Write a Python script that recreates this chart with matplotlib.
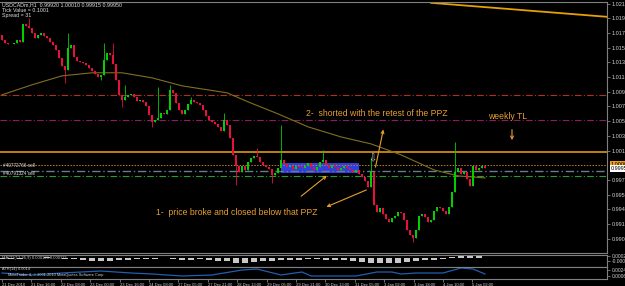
import numpy as np
import matplotlib
matplotlib.use("Agg")
import matplotlib.pyplot as plt
from matplotlib.patches import Rectangle

# ---------------- data ----------------
first_open = 1.01753
closes = [
    1.01686, 1.01646, 1.01632, 1.01632, 1.01646, 1.01686, 1.01659, 1.01902, 1.01875, 1.01848,
    1.01780, 1.01713, 1.01753, 1.01780, 1.01740, 1.01713, 1.01659, 1.01619, 1.01551, 1.01443,
    1.01335, 1.01281, 1.01578, 1.01619, 1.01457, 1.01403, 1.01389, 1.01376, 1.01349, 1.01308,
    1.01268, 1.01227, 1.01187, 1.01214, 1.01416, 1.01511, 1.01484, 1.01362, 1.01146, 1.00944,
    1.00876, 1.00917, 1.00944, 1.00957, 1.00917, 1.00863, 1.00876, 1.00849, 1.00795, 1.00674,
    1.00579, 1.00606, 1.00633, 1.00701, 1.00687, 1.00741, 1.01011, 1.00971, 1.00836, 1.00741,
    1.00687, 1.00741, 1.00822, 1.00876, 1.00849, 1.00836, 1.00809, 1.00741, 1.00660, 1.00606,
    1.00579, 1.00552, 1.00512, 1.00458, 1.00606, 1.00539, 1.00363, 1.00134, 0.99985, 0.99904,
    0.99985, 0.99931, 1.00039, 1.00093, 1.00120, 1.00107, 1.00039, 0.99998, 0.99972, 0.99945,
    0.99864, 0.99891, 0.99958, 1.00066, 1.00012, 0.99972, 0.99985, 0.99945, 0.99985, 0.99972,
    0.99958, 0.99985, 1.00026, 0.99972, 0.99931, 0.99972, 1.00039, 1.00066, 0.99998, 0.99958,
    0.99998, 0.99972, 0.99931, 0.99958, 0.99985, 0.99958, 0.99931, 0.99904, 0.99931, 0.99877,
    0.99837, 0.99783, 0.99702, 0.99904, 0.99459, 0.99364, 0.99418, 0.99337, 0.99270, 0.99229,
    0.99283, 0.99310, 0.99364, 0.99351, 0.99256, 0.99121, 0.99054, 0.99013, 0.99121, 0.99310,
    0.99337, 0.99297, 0.99229, 0.99256, 0.99378, 0.99432, 0.99418, 0.99378, 0.99337, 0.99432,
    0.99634, 0.99904, 0.99958, 0.99877, 0.99904, 0.99810, 0.99715, 0.99985, 0.99931, 0.99958,
    0.99985, 0.99958,
]
wick_high_idx = [9, 22, 34, 37, 41, 52, 56, 63, 74, 85, 93, 107, 123, 151]
wick_high_val = [1.01983, 1.01780, 1.01646, 1.01646, 1.01079, 1.01051, 1.01079, 1.00917,
                 1.00701, 1.00228, 1.00539, 1.00201, 1.00107, 1.00309]
wick_low_idx = [21, 33, 40, 50, 78, 90, 137]
wick_low_val = [1.01106, 1.01146, 1.00782, 1.00512, 0.99729, 0.99756, 0.98959]

ma_idx = [0, 10, 20, 30, 40, 50, 60, 75, 82, 92, 102, 113, 123, 133, 144, 152, 161]
ma_val = [1.00944, 1.01079, 1.01200, 1.01241, 1.01241, 1.01173, 1.01065, 1.00971, 1.00849,
          1.00687, 1.00512, 1.00376, 1.00282, 1.00134, 0.99931, 0.99850, 0.99823]

level_red = 1.00944
level_purple = 1.00606
level_weekly_tl = 1.00174
level_order = 1.00000
level_bid = 0.99918
level_green = 0.99850
ppz_low, ppz_high = 0.99891, 1.00026
ppz_start, ppz_end = 93, 119
tl_idx = [143, 202]
tl_val = [1.02185, 1.01995]

osma = [-1, -1, -0.5, 0.5, 0.5, 1, 0.5, -0.5, -1, -2, -2.5, -3, -2.5, -2, -1.5, -1, -1, -0.5,
        0.5, -1, -1.5, -1.5, -1, -2, -2.5, -3, -4.5, -5, -4, -3, -2.5, -2, -2, -1.5, -1, -1,
        -1.5, -1.5, -2, -2.5, -3.5, -4.5, -5, -5, -4.5, -4, -3, -2, -1.5, -0.5, 1.5, 2.5, 2.5, 2]  # x 1e-4
atr_idx = [0, 10, 20, 33, 43, 50, 60, 70, 80, 85, 93, 100, 103, 118, 125, 130, 133, 138, 147, 153, 157, 161]
atr_val = [0.0015, 0.0009, 0.0015, 0.0021, 0.0015, 0.0012, 0.0006, 0.0009, 0.0024, 0.0027, 0.0009,
           0.0018, 0.0006, 0.0006, 0.0018, 0.0018, 0.0012, 0.0015, 0.0015, 0.0030, 0.0027, 0.0012]

time_labels = ["21 Dec 2010", "21 Dec 16:00", "22 Dec 08:00", "23 Dec 00:00", "23 Dec 16:00",
               "24 Dec 08:00", "27 Dec 05:00", "27 Dec 21:00", "28 Dec 13:00", "29 Dec 05:00",
               "29 Dec 21:00", "30 Dec 13:00", "31 Dec 05:00", "3 Jan 02:00", "3 Jan 18:00",
               "4 Jan 10:00", "5 Jan 02:00"]
price_labels = [1.02175, 1.01975, 1.01780, 1.01580, 1.01385, 1.01185, 1.00985, 1.00790, 1.00590,
                1.00390, 1.00190, 0.99795, 0.99595, 0.99400, 0.99195, 0.99000]

# ---------------- figure ----------------
BG = "black"
GRID = "#808080"
FONT = "Liberation Sans"
fig = plt.figure(figsize=(6.25, 2.86), dpi=100, facecolor=BG)
W = 607 / 625
ax = fig.add_axes([0, 1 - 253 / 286, W, 251 / 286], facecolor=BG)
ax1 = fig.add_axes([0, 1 - 266.5 / 286, W, 11.5 / 286], facecolor=BG)
ax2 = fig.add_axes([0, 1 - 279 / 286, W, 12 / 286], facecolor=BG)

XL = (-0.67, 201.67)
n = len(closes)
x = np.arange(n)
c = np.array(closes)
o = np.concatenate([[first_open], c[:-1]])
hi = np.maximum(o, c)
lo = np.minimum(o, c)
for i, v in zip(wick_high_idx, wick_high_val):
    hi[i] = max(hi[i], v)
for i, v in zip(wick_low_idx, wick_low_val):
    lo[i] = min(lo[i], v)
up = c >= o
UPC, DNC = "#00d000", "#e8103c"
cols = np.where(up, UPC, DNC)

# PPZ zone
ax.add_patch(Rectangle((ppz_start, ppz_low), ppz_end - ppz_start, ppz_high - ppz_low,
                       facecolor="#2e3ee0", edgecolor="none", zorder=1))

# levels
ax.axhline(level_red, color="#b03020", lw=0.8, ls=(0, (6, 2, 1, 2)), zorder=2)
ax.axhline(level_purple, color="#8c1c64", lw=0.8, ls=(0, (6, 2, 1, 2)), zorder=2)
ax.axhline(level_weekly_tl, color="#d08a14", lw=1.3, zorder=2)
ax.axhline(level_order, color="#c08020", lw=0.7, ls=(0, (1.5, 1.5)), zorder=2)
ax.axhline(level_bid, color="#6a7c8c", lw=1.0, ls=(0, (6, 2, 1, 2)), zorder=2)
ax.axhline(level_green, color="#20a030", lw=0.8, ls=(0, (6, 2, 1, 2)), zorder=2)
ax.plot(tl_idx, tl_val, color="#e8a000", lw=1.3, zorder=2)

# moving average
ax.plot(ma_idx, ma_val, color="#807020", lw=0.8, zorder=2)

# candles
ax.vlines(x, lo, hi, colors=cols, lw=0.6, zorder=3)
body_h = np.maximum(np.abs(c - o), 0.00003)
ax.bar(x, body_h, bottom=np.minimum(o, c), width=0.75, color=cols, zorder=3, linewidth=0)

ax.set_xlim(*XL)
ax.set_ylim(0.98810, 1.02196)
ax.set_xticks([])
ax.yaxis.tick_right()
ax.set_yticks(price_labels)
ax.set_yticklabels([f"{v:.5f}" for v in price_labels])
ax.tick_params(axis="y", colors=GRID, labelcolor="#d0d0d0", length=2, width=0.6, pad=1.5, labelsize=4.0)
for lab in ax.get_yticklabels():
    lab.set_fontfamily(FONT)

for a in (ax, ax1, ax2):
    a.spines["left"].set_visible(False)
    for s in ("top", "right", "bottom"):
        a.spines[s].set_color(GRID)
        a.spines[s].set_linewidth(0.8)

# header texts
hdr = dict(color="#e0e0e0", fontsize=3.8, family=FONT, transform=ax.transAxes, va="center", ha="left")
ax.text(2 / 607, 1 - 3 / 251, "USDCADm,H1  0.99920 1.00010 0.99915 0.99950", **hdr)
ax.text(2 / 607, 1 - 8.5 / 251, "Tick Value = 0.1001", **hdr)
ax.text(2 / 607, 1 - 14 / 251, "Spread = 31", **hdr)
ax.text(0.4, 0.99985, "#40772766 sell", color="#e0e0e0", fontsize=3.3, family=FONT, va="center")
ax.text(0.4, 0.99880, "#40791324 sell", color="#e0e0e0", fontsize=3.3, family=FONT, va="center")

# annotations
ORG = "#e8a030"
ax.text(101.5, 1.00687, "2-  shorted with the retest of the PPZ", color=ORG, fontsize=6.2,
        family=FONT, va="center", ha="left", zorder=5)
ax.text(162, 1.00646, "weekly TL", color=ORG, fontsize=6.2, family=FONT, va="center", ha="left", zorder=5)
ax.text(51.3, 0.99351, "1-  price broke and closed below that PPZ", color=ORG, fontsize=6.2,
        family=FONT, va="center", ha="left", zorder=5)
arr = dict(arrowstyle="->", color=ORG, lw=0.8, mutation_scale=5)
ax.annotate("", xy=(127.3, 1.00512), xytext=(124.3, 0.99931), arrowprops=arr, zorder=5)
ax.annotate("", xy=(109, 0.99877), xytext=(99, 0.99553), arrowprops=arr, zorder=5)
ax.annotate("", xy=(107.3, 0.99418), xytext=(122.3, 0.99675), arrowprops=arr, zorder=5)
ax.annotate("", xy=(170, 1.00296), xytext=(170, 1.00512), arrowprops=arr, zorder=5)
ax.text(123.3, 1.00093, "\u21e9", color="#c8c8c8", fontsize=7, family="DejaVu Sans",
        ha="center", va="center", zorder=5)

# right price boxes
ax.text(1.006, level_order, "1.00000", transform=ax.get_yaxis_transform(), fontsize=4.0, family=FONT,
        color="black", va="center", ha="left", clip_on=False,
        bbox=dict(boxstyle="square,pad=0.15", fc="#f0a020", ec="none"))
ax.text(1.006, 0.99950, "0.99950", transform=ax.get_yaxis_transform(), fontsize=4.0, family=FONT,
        color="black", va="center", ha="left", clip_on=False,
        bbox=dict(boxstyle="square,pad=0.15", fc="white", ec="none"))

# OsMA panel
k = np.arange(len(osma)) * 3
ax1.bar(k, np.array(osma) * 1e-4, width=2.0, color="#c8c8c8", linewidth=0)
ax1.set_xlim(*XL)
ax1.set_ylim(-0.00082, 0.00032)
ax1.set_xticks([])
ax1.yaxis.tick_right()
ax1.set_yticks([0.00023, -0.00027])
ax1.set_yticklabels(["0.00023", "-0.00027"])
ax1.tick_params(axis="y", colors=GRID, labelcolor="#d0d0d0", length=2, width=0.6, pad=1.5, labelsize=3.5)
ax1.text(2 / 607, 0.72, "MACD(12,26,9) 0.000123 0.000112", color="#d0d0d0", fontsize=3.0,
         family=FONT, transform=ax1.transAxes, va="center")

# ATR panel
ax2.plot(atr_idx, atr_val, color="#1f5fb0", lw=0.9)
ax2.set_xlim(*XL)
ax2.set_ylim(-0.0003, 0.0033)
ax2.yaxis.tick_right()
ax2.set_yticks([0.0024, 0.0006])
ax2.set_yticklabels(["0.0024", "0.0006"])
ax2.tick_params(axis="y", colors=GRID, labelcolor="#d0d0d0", length=2, width=0.6, pad=1.5, labelsize=3.5)
ax2.text(2 / 607, 0.80, "ATR(14) 0.0014", color="#d0d0d0", fontsize=2.8, family=FONT,
         transform=ax2.transAxes, va="center")
ax2.text(8 / 607, 0.32, "MetaTrader 4, \u00a9 2001-2010 MetaQuotes Software Corp.", color="#d0d0d0",
         fontsize=2.8, family=FONT, transform=ax2.transAxes, va="center")

tick_pos = np.arange(len(time_labels)) * 9.8
ax2.set_xticks(tick_pos)
ax2.set_xticklabels(time_labels)
ax2.tick_params(axis="x", colors=GRID, labelcolor="#d0d0d0", length=2, width=0.6, pad=1.0, labelsize=3.0)
for lab in ax2.get_xticklabels():
    lab.set_horizontalalignment("left")
    lab.set_fontfamily(FONT)
for a in (ax1, ax2):
    for lab in a.get_yticklabels():
        lab.set_fontfamily(FONT)

fig.savefig("out.png", dpi=100, facecolor=BG)
